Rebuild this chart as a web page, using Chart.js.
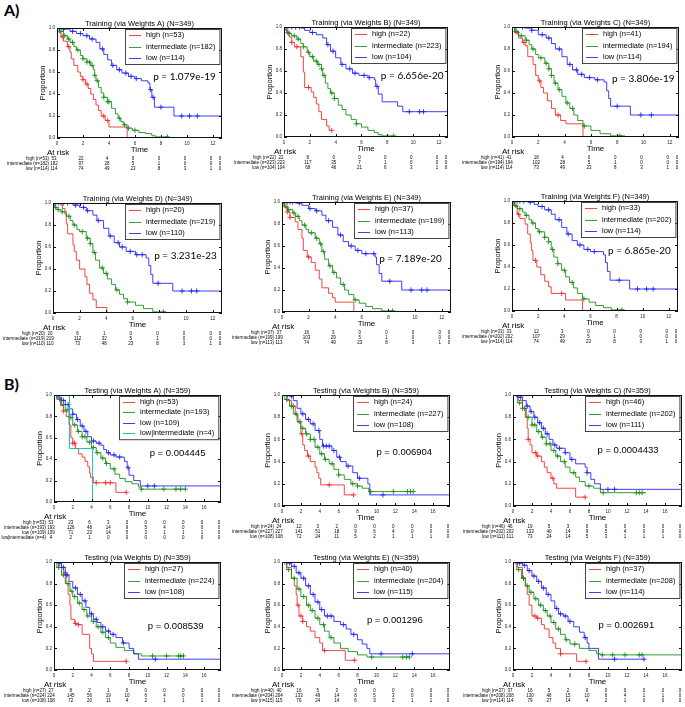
<!DOCTYPE html>
<html>
<head>
<meta charset="utf-8">
<script src="https://cdn.jsdelivr.net/npm/chart.js@4.4.1/dist/chart.umd.min.js"></script>
<style>
body{margin:0;background:#fff;width:685px;height:707px;position:relative;overflow:hidden;font-family:"Liberation Sans",Arial,sans-serif}
canvas{position:absolute}
.lbl{position:absolute;font-weight:bold;font-size:16px;font-family:Lato,"Liberation Sans",sans-serif;color:#000}
</style>
</head>
<body>
<div class="lbl" style="left:4px;top:0px">A)</div>
<div class="lbl" style="left:4px;top:374px">B)</div>
<script>
// ---- Training A ----
var trA_n = [53, 182, 114];
var trA_high = [[0,1],[0.15,0.96],[0.3,0.92],[0.5,0.88],[0.8,0.83],[1.0,0.78],[1.1,0.72],[1.3,0.66],[1.6,0.6],[1.8,0.56],[2.0,0.53],[2.2,0.49],[2.4,0.45],[2.6,0.4],[2.8,0.35],[3.0,0.3],[3.2,0.25],[3.4,0.2],[3.7,0.16],[4.0,0.1],[5.4,0]];
var trA_high_c = [0.4,0.9,2.0,2.3,3.6,3.9];
var trA_mid = [[0,1],[0.2,0.97],[0.5,0.93],[0.8,0.9],[1.0,0.87],[1.3,0.83],[1.5,0.8],[1.8,0.75],[2.0,0.72],[2.3,0.69],[2.6,0.66],[2.8,0.62],[2.9,0.57],[3.0,0.52],[3.2,0.46],[3.4,0.41],[3.6,0.37],[3.9,0.33],[4.2,0.27],[4.5,0.22],[4.7,0.18],[4.9,0.15],[5.1,0.12],[5.4,0.09],[5.8,0.07],[6.3,0.05],[6.8,0.04],[7.3,0.02],[7.6,0.01],[8.5,0.01]];
var trA_mid_c = [0.3,0.6,0.9,1.2,1.6,2.0,2.3,2.5,2.7,2.9,3.1,3.6,3.9,4.0,4.8,5.2,5.5,6.0,8.5];
var trA_low = [[0,1],[0.5,0.99],[1.0,0.97],[1.5,0.95],[2.0,0.93],[2.5,0.9],[3.0,0.87],[3.3,0.81],[3.6,0.76],[3.9,0.71],[4.2,0.66],[4.6,0.62],[5.0,0.59],[5.5,0.56],[6.0,0.54],[6.5,0.52],[7.0,0.5],[7.15,0.44],[7.3,0.37],[7.5,0.28],[9.0,0.2],[12.7,0.2]];
var trA_low_c = [0.2,0.5,1.2,1.8,2.3,2.7,3.5,4.3,4.8,5.3,5.7,6.1,7.2,7.4,8.0,9.6,10.2,10.8];
var trA_risk = [[53,22,4,0,0,0,0,0],[182,97,28,5,1,0,0,0],[114,74,49,23,8,3,1,0]];

// ---- Training B ----
var trB_n = [22, 223, 104];
var trB_high = [[0,1],[0.2,0.95],[0.4,0.91],[0.6,0.86],[0.8,0.82],[1.3,0.73],[1.5,0.59],[1.6,0.45],[2.1,0.41],[2.3,0.36],[2.5,0.3],[2.7,0.23],[2.9,0.16],[3.3,0.1],[3.5,0.06],[3.7,0.06]];
var trB_high_c = [0.3,0.6,1.0,1.9,3.7];
var trB_mid = [[0,1],[0.1,0.97],[0.3,0.94],[0.6,0.92],[1.0,0.89],[1.3,0.85],[1.5,0.82],[1.8,0.77],[2.0,0.73],[2.3,0.69],[2.6,0.66],[2.9,0.62],[3.0,0.56],[3.2,0.49],[3.4,0.44],[3.6,0.4],[3.9,0.35],[4.2,0.29],[4.5,0.25],[4.8,0.2],[5.2,0.16],[5.6,0.12],[6.0,0.09],[6.5,0.06],[7.0,0.04],[7.3,0.02],[7.6,0.01],[8.5,0.01]];
var trB_mid_c = [0.4,0.8,1.1,1.5,1.9,2.2,2.5,2.7,2.9,3.1,3.7,3.9,5.6,8.5];
var trB_low = [[0,1],[1.3,0.99],[1.6,0.97],[2.0,0.95],[2.5,0.93],[3.0,0.9],[3.3,0.84],[3.6,0.78],[4.0,0.72],[4.4,0.66],[4.8,0.62],[5.3,0.58],[5.8,0.56],[6.5,0.54],[7.0,0.52],[7.1,0.46],[7.3,0.39],[7.6,0.32],[8.8,0.28],[9.2,0.23],[12.7,0.23]];
var trB_low_c = [0.3,0.6,0.9,1.2,2.2,3.4,3.8,4.5,5.1,5.5,6.2,6.6,7.2,9.7,10.5,10.8];
var trB_risk = [[22,8,0,0,0,0,0,0],[223,117,35,7,1,0,0,0],[104,68,46,21,6,3,1,0]];

// ---- Training C ----
var trC_n = [41, 194, 114];
var trC_high = [[0,1],[0.2,0.95],[0.5,0.9],[0.8,0.86],[1.0,0.83],[1.2,0.73],[1.6,0.66],[1.8,0.56],[2.0,0.51],[2.2,0.45],[2.4,0.4],[2.7,0.33],[3.0,0.26],[3.3,0.2],[3.7,0.15],[4.1,0.12],[5.4,0]];
var trC_high_c = [0.4,0.9,2.1,3.5];
var trC_mid = [[0,1],[0.2,0.96],[0.5,0.92],[1.0,0.88],[1.3,0.84],[1.5,0.8],[1.8,0.75],[2.0,0.72],[2.5,0.67],[2.8,0.62],[3.0,0.56],[3.2,0.49],[3.5,0.43],[3.8,0.37],[4.1,0.31],[4.4,0.26],[4.7,0.2],[5.0,0.15],[5.4,0.1],[6.0,0.06],[6.7,0.03],[7.5,0.01],[8.6,0.01]];
var trC_mid_c = [0.3,0.7,1.1,1.6,2.2,2.6,2.8,3.0,3.3,3.6,4.2,4.6,5.5,8.2];
var trC_low = [[0,1],[1.0,0.99],[1.5,0.97],[2.0,0.93],[2.6,0.9],[3.0,0.85],[3.3,0.8],[3.8,0.73],[4.2,0.66],[4.6,0.61],[5.0,0.57],[5.5,0.54],[6.3,0.52],[7.0,0.5],[7.2,0.42],[7.35,0.35],[7.5,0.28],[9.0,0.2],[12.7,0.2]];
var trC_low_c = [0.3,0.8,1.5,2.3,2.8,3.6,4.4,4.9,5.3,5.9,6.5,8.0,9.8,10.6];
var trC_risk = [[41,18,4,0,0,0,0,0],[194,102,28,5,1,0,0,0],[114,73,49,23,8,3,1,0]];

// ---- Training D ----
var trD_n = [20, 219, 110];
var trD_high = [[0,1],[0.7,0.95],[0.9,0.9],[1.0,0.81],[1.1,0.72],[1.5,0.62],[1.6,0.56],[1.75,0.48],[2.0,0.4],[2.4,0.33],[2.55,0.26],[2.75,0.18],[3.0,0.12],[3.25,0.05],[4.05,0]];
var trD_high_c = [];
var trD_mid = [[0,1],[0.1,0.96],[0.3,0.94],[0.6,0.92],[1.0,0.88],[1.3,0.84],[1.5,0.8],[1.8,0.76],[2.0,0.74],[2.5,0.68],[2.8,0.63],[3.0,0.55],[3.2,0.48],[3.5,0.41],[3.8,0.36],[4.1,0.31],[4.4,0.26],[4.7,0.21],[5.0,0.17],[5.3,0.13],[5.6,0.1],[6.2,0.07],[6.8,0.04],[7.5,0.01],[8.5,0.01]];
var trD_mid_c = [0.2,0.4,0.7,1.2,1.6,2.2,2.6,2.8,3.1,3.7,4.0,4.8,5.6,8.3];
var trD_low = [[0,1],[1.5,0.98],[2.0,0.96],[2.5,0.93],[3.0,0.89],[3.3,0.84],[3.8,0.77],[4.2,0.7],[4.6,0.64],[5.0,0.6],[5.5,0.56],[6.2,0.53],[7.0,0.5],[7.2,0.43],[7.35,0.35],[7.5,0.27],[9.0,0.2],[12.7,0.2]];
var trD_low_c = [0.2,0.4,0.6,0.8,1.1,1.7,2.3,2.6,3.4,4.3,4.9,5.2,5.8,6.3,6.7,7.9,9.7,10.4,10.8];
var trD_risk = [[20,6,1,0,0,0,0,0],[219,112,32,5,1,0,0,0],[110,73,48,23,8,3,1,0]];

// ---- Training E ----
var trE_n = [37, 199, 113];
var trE_high = [[0,1],[0.2,0.95],[0.4,0.91],[0.6,0.86],[1.0,0.82],[1.2,0.75],[1.5,0.67],[1.6,0.56],[1.9,0.5],[2.2,0.45],[2.5,0.38],[2.8,0.3],[3.0,0.22],[3.5,0.17],[3.8,0.13],[4.0,0.09],[5.4,0]];
var trE_high_c = [0.4,0.6,2.0];
var trE_mid = [[0,1],[0.1,0.96],[0.4,0.93],[0.8,0.9],[1.0,0.87],[1.3,0.83],[1.5,0.79],[1.8,0.75],[2.0,0.72],[2.5,0.67],[2.8,0.62],[3.0,0.55],[3.2,0.48],[3.5,0.42],[3.8,0.36],[4.1,0.31],[4.4,0.25],[4.7,0.2],[5.0,0.16],[5.4,0.11],[5.8,0.08],[6.3,0.05],[6.8,0.03],[7.5,0.01],[8.5,0.01]];
var trE_mid_c = [0.3,0.5,0.9,1.2,1.7,2.2,2.6,2.9,3.1,3.6,3.9,4.6,5.5,8.3];
var trE_low = [[0,1],[1.0,0.99],[1.5,0.97],[2.0,0.94],[2.5,0.92],[3.0,0.88],[3.3,0.83],[3.8,0.77],[4.2,0.7],[4.6,0.64],[5.0,0.6],[5.5,0.56],[6.0,0.53],[7.0,0.5],[7.1,0.43],[7.3,0.35],[7.5,0.28],[9.0,0.2],[12.7,0.2]];
var trE_low_c = [0.2,0.4,0.6,0.8,1.3,2.1,2.6,3.5,4.4,5.2,5.7,6.3,6.9,8.1,9.7,10.5,10.9];
var trE_risk = [[37,16,3,0,0,0,0,0],[199,103,29,5,1,0,0,0],[113,74,49,23,8,3,1,0]];

// ---- Training F ----
var trF_n = [33, 202, 114];
var trF_high = [[0,1],[0.2,0.95],[0.4,0.88],[0.6,0.84],[1.0,0.79],[1.2,0.7],[1.4,0.62],[1.5,0.55],[1.6,0.46],[1.9,0.4],[2.2,0.33],[2.5,0.27],[2.8,0.22],[3.0,0.16],[4.1,0.1],[5.4,0]];
var trF_high_c = [0.5,1.8,3.8];
var trF_mid = [[0,1],[0.1,0.96],[0.4,0.93],[0.8,0.9],[1.0,0.87],[1.3,0.83],[1.5,0.8],[1.8,0.75],[2.0,0.72],[2.5,0.67],[2.8,0.63],[3.0,0.56],[3.2,0.49],[3.5,0.43],[3.8,0.37],[4.1,0.31],[4.4,0.26],[4.7,0.21],[5.0,0.16],[5.4,0.11],[5.9,0.08],[6.4,0.05],[7.0,0.03],[7.6,0.01],[8.6,0.01]];
var trF_mid_c = [0.3,0.6,1.1,1.6,2.1,2.5,2.8,3.1,3.5,4.0,4.6,5.5,8.4];
var trF_low = [[0,1],[1.2,0.99],[1.7,0.97],[2.0,0.95],[2.5,0.92],[3.0,0.88],[3.3,0.83],[3.8,0.76],[4.2,0.7],[4.6,0.64],[5.0,0.6],[5.5,0.56],[6.0,0.54],[7.0,0.51],[7.15,0.44],[7.3,0.36],[7.5,0.28],[9.0,0.2],[12.7,0.2]];
var trF_low_c = [0.2,0.4,0.6,0.9,1.4,2.3,2.8,3.6,4.3,5.2,5.8,6.3,8.2,9.6,10.3,10.8];
var trF_risk = [[33,12,3,0,0,0,0,0],[202,107,29,5,1,0,0,0],[114,74,49,23,8,3,1,0]];

// ---- Testing A ----
var teA_n = [53, 193, 109, 4];
var teA_high = [[0,1],[0.3,0.97],[0.7,0.9],[1.0,0.85],[1.3,0.8],[1.6,0.72],[1.8,0.6],[2.0,0.55],[2.3,0.5],[2.6,0.45],[3.0,0.42],[3.3,0.38],[3.6,0.33],[3.8,0.27],[3.9,0.23],[4.2,0.18],[6.6,0.09],[7.7,0.09]];
var teA_high_c = [1.0,2.0,2.2,4.5,5.5,6.0,7.7];
var teA_mid = [[0,1],[0.3,0.96],[0.8,0.91],[1.2,0.86],[1.6,0.79],[2.0,0.72],[2.5,0.66],[3.0,0.61],[3.5,0.56],[4.0,0.51],[4.5,0.46],[5.0,0.41],[5.5,0.36],[6.0,0.31],[6.5,0.26],[7.0,0.22],[7.6,0.19],[8.3,0.17],[9.0,0.14],[9.3,0.12],[14.0,0.12]];
var teA_mid_c = [0.6,1.0,1.4,1.8,2.2,2.6,3.0,3.3,3.8,4.2,4.6,5.2,5.6,6.4,9.3,11.7,13.0,13.5,14.0];
var teA_low = [[0,1],[0.5,0.98],[0.8,0.95],[1.2,0.91],[1.6,0.87],[2.0,0.82],[2.4,0.77],[2.8,0.71],[3.2,0.66],[3.6,0.61],[4.0,0.57],[4.5,0.55],[5.0,0.53],[5.3,0.49],[5.6,0.46],[6.0,0.44],[6.6,0.42],[7.5,0.38],[7.8,0.32],[8.0,0.25],[8.5,0.2],[9.2,0.15],[17.8,0.15]];
var teA_low_c = [0.4,1.0,1.5,2.0,2.5,3.0,3.4,4.2,4.8,5.8,6.4,7.0,7.9,10.0,10.7];
var teA_li = [[0,1],[1.65,0.5],[4.1,0]];
var teA_li_c = [];
var teA_risk = [[53,23,6,3,0,0,0,0,0,0],[193,126,48,14,9,5,4,0,0,0],[109,71,23,14,5,3,1,1,1,0],[4,2,1,0,0,0,0,0,0,0]];

// ---- Testing B ----
var teB_n = [24, 227, 108];
var teB_high = [[0,1],[0.5,0.95],[1.0,0.9],[1.4,0.82],[1.7,0.75],[2.0,0.65],[2.2,0.55],[2.4,0.5],[2.7,0.45],[3.0,0.4],[3.5,0.35],[3.7,0.3],[3.9,0.25],[4.1,0.19],[6.6,0.1],[7.6,0.1]];
var teB_high_c = [1.2,2.1,2.8,5.0,7.6];
var teB_mid = [[0,1],[0.3,0.96],[0.8,0.9],[1.2,0.83],[1.6,0.76],[2.0,0.7],[2.5,0.65],[3.0,0.6],[3.5,0.53],[4.0,0.47],[4.5,0.42],[5.0,0.38],[5.5,0.33],[6.0,0.28],[6.6,0.24],[7.3,0.2],[8.0,0.18],[8.5,0.16],[9.2,0.13],[14.0,0.13]];
var teB_mid_c = [0.5,1.0,1.5,1.9,2.2,2.6,3.0,3.4,3.8,4.2,4.6,5.3,6.0,7.5,8.0,9.4,11.8,13.3,13.6,13.9];
var teB_low = [[0,1],[0.8,0.99],[1.2,0.95],[1.6,0.88],[2.0,0.83],[2.5,0.78],[3.0,0.74],[3.5,0.68],[4.0,0.6],[4.3,0.54],[5.3,0.5],[5.8,0.44],[6.2,0.4],[6.8,0.36],[7.5,0.3],[8.0,0.25],[9.1,0.2],[9.3,0.1],[17.8,0.1]];
var teB_low_c = [0.6,1.0,2.2,2.8,3.3,3.9,4.4,4.7,5.0,5.5,6.1,7.0,8.2,10.7];
var teB_risk = [[24,12,3,2,0,0,0,0,0,0],[227,141,51,18,9,6,4,0,0,0],[108,72,24,11,5,2,1,1,1,0]];

// ---- Testing C ----
var teC_n = [46, 202, 111];
var teC_high = [[0,1],[0.6,0.95],[1.0,0.88],[1.3,0.8],[1.5,0.7],[1.6,0.6],[1.8,0.55],[2.0,0.48],[2.5,0.45],[3.0,0.4],[3.3,0.35],[3.6,0.3],[4.0,0.25],[4.3,0.2],[4.6,0.16],[6.6,0.08],[7.6,0.08]];
var teC_high_c = [1.0,1.6,2.4,2.6,4.2,7.6];
var teC_mid = [[0,1],[0.5,0.93],[1.0,0.88],[1.4,0.8],[2.0,0.73],[2.5,0.67],[3.0,0.62],[3.5,0.56],[4.0,0.5],[4.5,0.45],[5.0,0.4],[5.5,0.35],[6.0,0.3],[6.6,0.26],[7.0,0.22],[7.6,0.18],[8.5,0.16],[9.2,0.12],[14.0,0.12]];
var teC_mid_c = [0.7,1.2,1.6,2.0,2.3,2.7,3.1,3.5,3.9,4.3,4.7,5.4,6.4,8.0,9.5,13.0,13.3,13.6];
var teC_low = [[0,1],[0.5,0.98],[1.0,0.95],[1.4,0.9],[1.8,0.85],[2.2,0.8],[2.6,0.75],[3.0,0.7],[3.4,0.65],[3.8,0.6],[4.2,0.55],[4.6,0.52],[5.5,0.48],[6.0,0.42],[6.6,0.38],[7.6,0.35],[7.8,0.3],[8.2,0.24],[8.6,0.2],[9.2,0.15],[17.8,0.15]];
var teC_low_c = [0.4,0.8,1.5,1.9,2.3,2.8,3.2,3.6,4.4,4.9,5.5,6.2,7.8,10.0,10.7];
var teC_risk = [[46,19,5,3,0,0,0,0,0,0],[202,133,40,14,9,5,4,0,0,0],[111,73,24,14,5,3,1,1,1,0]];

// ---- Testing D ----
var teD_n = [27, 224, 108];
var teD_high = [[0,1],[0.5,0.95],[1.0,0.9],[1.3,0.8],[1.5,0.7],[1.7,0.6],[1.8,0.47],[2.2,0.43],[2.5,0.42],[3.0,0.33],[3.8,0.2],[4.0,0.15],[4.2,0.08],[7.7,0.08]];
var teD_high_c = [1.2,2.3,2.6,7.7];
var teD_mid = [[0,1],[0.3,0.95],[0.8,0.88],[1.2,0.8],[1.7,0.73],[2.0,0.68],[2.5,0.62],[3.0,0.56],[3.5,0.5],[4.0,0.45],[4.5,0.4],[5.0,0.35],[5.5,0.3],[6.0,0.25],[6.6,0.21],[7.5,0.18],[8.5,0.15],[9.3,0.13],[13.8,0.13]];
var teD_mid_c = [0.5,1.0,1.5,1.9,2.2,2.7,3.2,3.6,4.2,4.7,5.2,5.8,10.5,12.0,13.3,13.5,13.8];
var teD_low = [[0,1],[0.4,0.99],[0.8,0.95],[1.2,0.88],[1.6,0.82],[2.0,0.76],[2.5,0.7],[3.0,0.64],[3.4,0.58],[3.8,0.52],[4.2,0.47],[4.6,0.44],[5.0,0.4],[5.5,0.36],[6.0,0.33],[6.6,0.3],[7.3,0.25],[8.0,0.2],[8.5,0.15],[9.0,0.1],[17.8,0.1]];
var teD_low_c = [0.6,1.0,1.4,2.3,2.8,3.3,4.0,4.5,5.2,5.8,6.3,7.4,10.8];
var teD_risk = [[27,8,2,1,0,0,0,0,0,0],[224,145,56,19,10,6,4,0,0,0],[108,72,20,11,4,2,1,1,1,0]];

// ---- Testing E ----
var teE_n = [40, 204, 115];
var teE_high = [[0,1],[0.5,0.95],[1.0,0.85],[1.3,0.78],[1.5,0.7],[1.6,0.6],[1.8,0.5],[2.2,0.45],[2.6,0.4],[3.0,0.36],[3.5,0.3],[4.0,0.25],[4.3,0.18],[6.7,0.09],[7.7,0.09]];
var teE_high_c = [1.7,2.0,2.2,4.5,7.7];
var teE_mid = [[0,1],[0.5,0.93],[1.0,0.85],[1.6,0.75],[2.0,0.68],[2.6,0.6],[3.0,0.55],[3.5,0.48],[4.0,0.42],[4.5,0.36],[5.0,0.3],[5.5,0.25],[6.2,0.2],[7.0,0.17],[8.0,0.14],[9.0,0.12],[13.5,0.12]];
var teE_mid_c = [0.7,1.3,1.8,2.3,2.8,3.2,3.8,4.4,5.2,9.5,12.8,13.2,13.5];
var teE_low = [[0,1],[0.5,0.99],[1.0,0.96],[1.5,0.9],[2.0,0.85],[2.5,0.78],[3.0,0.7],[3.5,0.63],[4.0,0.56],[4.5,0.5],[5.5,0.45],[6.2,0.42],[6.8,0.38],[7.3,0.33],[8.0,0.28],[8.5,0.24],[9.0,0.2],[9.3,0.15],[17.8,0.15]];
var teE_low_c = [0.3,0.8,1.3,1.8,2.3,2.8,3.3,3.8,4.2,4.8,5.2,6.5,7.6,10.5,13.8];
var teE_risk = [[40,16,5,3,0,0,0,0,0,0],[204,133,49,14,8,5,3,0,0,0],[115,76,24,14,6,3,2,1,1,0]];

// ---- Testing F ----
var teF_n = [37, 208, 114];
var teF_high = [[0,1],[0.5,0.95],[1.0,0.85],[1.3,0.78],[1.5,0.7],[1.7,0.6],[2.0,0.5],[2.5,0.48],[3.0,0.42],[3.3,0.38],[3.8,0.3],[4.2,0.25],[4.5,0.2],[5.0,0.15],[6.7,0.08],[7.7,0.08]];
var teF_high_c = [1.1,2.3,2.6,5.0,7.7];
var teF_mid = [[0,1],[0.4,0.93],[0.9,0.85],[1.3,0.78],[1.7,0.72],[2.2,0.66],[2.7,0.6],[3.2,0.55],[3.6,0.5],[4.0,0.44],[4.5,0.38],[5.0,0.33],[5.5,0.28],[6.0,0.24],[7.0,0.2],[8.0,0.18],[8.8,0.15],[9.2,0.14],[17.8,0.14]];
var teF_mid_c = [0.6,1.1,1.5,1.9,2.4,2.9,3.4,3.9,4.3,4.8,5.6,6.5,9.4,10.5,11.8,13.3,13.6];
var teF_low = [[0,1],[0.5,0.99],[1.0,0.97],[1.5,0.92],[2.0,0.87],[2.5,0.82],[3.0,0.76],[3.5,0.7],[4.0,0.64],[4.4,0.57],[4.8,0.52],[5.3,0.5],[5.8,0.45],[6.4,0.4],[7.0,0.35],[7.5,0.3],[7.8,0.25],[8.0,0.2],[9.0,0.1],[13.8,0.1]];
var teF_low_c = [0.3,0.7,1.2,1.7,2.2,2.7,3.2,3.7,4.6,5.0,5.5,6.0,7.6,10.7,13.8];
var teF_risk = [[37,16,5,2,0,0,0,0,0,0],[208,130,46,15,10,6,4,1,1,0],[114,79,27,14,4,2,1,0,0,0]];

var groupNames = ['high', 'intermediate', 'low', 'low|intermediate'];
var groupColors = ['rgba(240,40,40,0.85)', 'rgba(20,140,20,0.85)', 'rgba(30,30,245,0.85)', 'rgba(0,190,190,0.9)'];

var trFont = '10px Lato', teFont = '9.5px "Liberation Sans"';
var panels = [
  {title:'Training (via Weights A) (N=349)', box:[57,28,223,138], xmax:12.7, p:'p = 1.079e-19', pAt:[7.4,0.555], pFont:trFont, n:trA_n, curves:[trA_high,trA_mid,trA_low], cens:[trA_high_c,trA_mid_c,trA_low_c], risk:trA_risk},
  {title:'Training (via Weights B) (N=349)', box:[284,27,449,137], xmax:12.7, p:'p = 6.656e-20', pAt:[7.5,0.56], pFont:trFont, n:trB_n, curves:[trB_high,trB_mid,trB_low], cens:[trB_high_c,trB_mid_c,trB_low_c], risk:trB_risk},
  {title:'Training (via Weights C) (N=349)', box:[512,27,680,137], xmax:12.7, p:'p = 3.806e-19', pAt:[7.6,0.53], pFont:trFont, n:trC_n, curves:[trC_high,trC_mid,trC_low], cens:[trC_high_c,trC_mid_c,trC_low_c], risk:trC_risk},
  {title:'Training (via Weights D) (N=349)', box:[53,203,223,313], xmax:12.7, p:'p = 3.231e-23', pAt:[7.6,0.52], pFont:trFont, n:trD_n, curves:[trD_high,trD_mid,trD_low], cens:[trD_high_c,trD_mid_c,trD_low_c], risk:trD_risk},
  {title:'Training (via Weights E) (N=349)', box:[282,202,452,312], xmax:12.7, p:'p = 7.189e-20', pAt:[7.3,0.48], pFont:trFont, n:trE_n, curves:[trE_high,trE_mid,trE_low], cens:[trE_high_c,trE_mid_c,trE_low_c], risk:trE_risk},
  {title:'Training (via Weights F) (N=349)', box:[512,201,679,311], xmax:12.7, p:'p = 6.865e-20', pAt:[7.35,0.55], pFont:trFont, n:trF_n, curves:[trF_high,trF_mid,trF_low], cens:[trF_high_c,trF_mid_c,trF_low_c], risk:trF_risk},
  {title:'Testing (via Weights A) (N=359)', box:[54,395,222,502], xmax:17.8, p:'p = 0.004445', pAt:[10.2,0.45], pFont:teFont, n:teA_n, curves:[teA_high,teA_mid,teA_low,teA_li], cens:[teA_high_c,teA_mid_c,teA_low_c,teA_li_c], risk:teA_risk},
  {title:'Testing (via Weights B) (N=359)', box:[282,395,451,506], xmax:17.8, p:'p = 0.006904', pAt:[10.0,0.48], pFont:teFont, n:teB_n, curves:[teB_high,teB_mid,teB_low], cens:[teB_high_c,teB_mid_c,teB_low_c], risk:teB_risk},
  {title:'Testing (via Weights C) (N=359)', box:[513,395,683,506], xmax:17.8, p:'p = 0.0004433', pAt:[8.9,0.5], pFont:teFont, n:teC_n, curves:[teC_high,teC_mid,teC_low], cens:[teC_high_c,teC_mid_c,teC_low_c], risk:teC_risk},
  {title:'Testing (via Weights D) (N=359)', box:[54,562,222,670], xmax:17.8, p:'p = 0.008539', pAt:[10.0,0.4], pFont:teFont, n:teD_n, curves:[teD_high,teD_mid,teD_low], cens:[teD_high_c,teD_mid_c,teD_low_c], risk:teD_risk},
  {title:'Testing (via Weights E) (N=359)', box:[282,562,451,670], xmax:17.8, p:'p = 0.001296', pAt:[9.0,0.46], pFont:teFont, n:teE_n, curves:[teE_high,teE_mid,teE_low], cens:[teE_high_c,teE_mid_c,teE_low_c], risk:teE_risk},
  {title:'Testing (via Weights F) (N=359)', box:[513,562,683,670], xmax:17.8, p:'p = 0.002691', pAt:[9.0,0.41], pFont:teFont, n:teF_n, curves:[teF_high,teF_mid,teF_low], cens:[teF_high_c,teF_mid_c,teF_low_c], risk:teF_risk}
];

// value of a step curve at time t (for censor marks)
function stepAt(curve, t) {
  var y = curve[0][1];
  for (var i = 0; i < curve.length; i++) {
    if (curve[i][0] <= t) y = curve[i][1];
  }
  return y;
}

function makeKmPlugin(pn) {
  return {
    id: 'km',
    afterDraw: function (chart) {
      var ctx = chart.ctx, a = chart.chartArea;
      var xs = chart.scales.x, ys = chart.scales.y;
      var rows = pn.curves.length;
      ctx.save();
      // frame + inward ticks
      ctx.strokeStyle = '#111';
      ctx.lineWidth = 1;
      ctx.strokeRect(Math.round(a.left) + 0.5, Math.round(a.top) + 0.5, Math.round(a.right - a.left) - 1, Math.round(a.bottom - a.top) - 1);
      ctx.beginPath();
      for (var t = 0; t <= pn.xmax; t += 2) {
        var px = Math.round(xs.getPixelForValue(t)) + 0.5;
        ctx.moveTo(px, a.bottom); ctx.lineTo(px, a.bottom - 3);
        ctx.moveTo(px, a.top); ctx.lineTo(px, a.top + 3);
      }
      for (var v = 0; v <= 5; v++) {
        var py = Math.round(ys.getPixelForValue(v * 0.2)) + 0.5;
        ctx.moveTo(a.left, py); ctx.lineTo(a.left + 3, py);
        ctx.moveTo(a.right, py); ctx.lineTo(a.right - 3, py);
      }
      ctx.stroke();

      ctx.fillStyle = '#000';
      // title
      ctx.font = '7.5px "Liberation Sans"';
      ctx.textAlign = 'center';
      ctx.textBaseline = 'alphabetic';
      ctx.fillText(pn.title, (a.left + a.right) / 2, a.top - 2.5);
      // axis titles
      ctx.font = '8px "Liberation Sans"';
      ctx.textBaseline = 'middle';
      ctx.fillText('Time', (a.left + a.right) / 2, a.bottom + 12);
      ctx.save();
      ctx.translate(a.left - 14, (a.top + a.bottom) / 2);
      ctx.rotate(-Math.PI / 2);
      ctx.font = '7.5px "Liberation Sans"';
      ctx.fillText('Proportion', 0, 0);
      ctx.restore();

      // p value
      ctx.font = pn.pFont;
      ctx.textAlign = 'left';
      ctx.fillText(pn.p, xs.getPixelForValue(pn.pAt[0]), ys.getPixelForValue(pn.pAt[1]));

      // legend
      var rowH = rows > 3 ? 10.4 : 11.5;
      ctx.font = '7.5px "Liberation Sans"';
      var labels = pn.n.map(function (n, i) { return groupNames[i] + ' (n=' + n + ')'; });
      var tw = 0;
      labels.forEach(function (s) { tw = Math.max(tw, ctx.measureText(s).width); });
      var bw = tw + 25, bh = 12 + rowH * (rows - 1);
      var bx = Math.round(a.right - 3 - bw), by = Math.round(a.top + 1);
      ctx.fillStyle = '#fff';
      ctx.fillRect(bx, by, bw, bh);
      ctx.strokeStyle = '#444';
      ctx.strokeRect(bx + 0.5, by + 0.5, bw, bh);
      labels.forEach(function (s, i) {
        var ly = by + 6 + i * rowH;
        ctx.strokeStyle = groupColors[i];
        ctx.beginPath();
        ctx.moveTo(bx + 4, Math.round(ly) + 0.5);
        ctx.lineTo(bx + 16, Math.round(ly) + 0.5);
        ctx.stroke();
        ctx.fillStyle = '#000';
        ctx.fillText(s, bx + 21, ly);
      });

      // at-risk table
      ctx.font = '8px "Liberation Sans"';
      ctx.fillText('At risk', a.left - 10, a.bottom + 15);
      ctx.font = '4.5px "Liberation Sans"';
      pn.risk.forEach(function (vals, r) {
        var ry = a.bottom + 21 + r * 4.8;
        ctx.textAlign = 'right';
        ctx.fillText(labels[r], a.left - 8, ry);
        ctx.textAlign = 'center';
        vals.forEach(function (val, c) {
          var tt = c < vals.length - 1 ? c * 2 : xs.max;
          var cx = xs.getPixelForValue(tt) - (c === 0 ? 3 : 2);
          ctx.fillText(String(val), cx, ry);
        });
      });
      ctx.restore();
    }
  };
}

function buildPanel(pn) {
  var L = 60, R = 4, T = 14;
  var B = Math.round(24 + pn.curves.length * 4.8);
  var w = Math.round(pn.box[2] - pn.box[0]) + L + R;
  var h = Math.round(pn.box[3] - pn.box[1]) + T + B;
  var cv = document.createElement('canvas');
  cv.width = w; cv.height = h;
  cv.style.width = w + 'px'; cv.style.height = h + 'px';
  cv.style.left = (pn.box[0] - L) + 'px';
  cv.style.top = (pn.box[1] - T) + 'px';
  document.body.appendChild(cv);

  var datasets = [];
  var ng = pn.curves.length;
  pn.curves.forEach(function (cur, i) {
    datasets.push({
      data: cur.map(function (p) { return {x: p[0], y: p[1]}; }),
      stepped: true, borderColor: groupColors[i], borderWidth: 1,
      pointRadius: 0, fill: false, order: ng - i
    });
    datasets.push({
      data: pn.cens[i].map(function (t) { return {x: t, y: stepAt(cur, t)}; }),
      showLine: false, pointStyle: 'cross', pointRadius: 2.6, borderWidth: 1,
      borderColor: groupColors[i], backgroundColor: groupColors[i], order: ng - i
    });
  });

  new Chart(cv, {
    type: 'line',
    data: {datasets: datasets},
    options: {
      responsive: false,
      animation: false,
      events: [],
      layout: {padding: {top: T, right: R, left: 0, bottom: 0}},
      plugins: {legend: {display: false}, tooltip: {enabled: false}, title: {display: false}},
      scales: {
        x: {
          type: 'linear', min: 0, max: pn.xmax,
          grid: {display: false, drawTicks: false, tickLength: 0}, border: {display: false},
          ticks: {stepSize: 2, includeBounds: false, maxRotation: 0, autoSkip: false, padding: 3, color: '#222',
                  font: {size: 4.5, family: 'Liberation Sans'},
                  callback: function (v) { return v % 2 === 0 ? String(v) : ''; }},
          afterFit: function (s) { s.height = B; }
        },
        y: {
          min: 0, max: 1,
          grid: {display: false, drawTicks: false, tickLength: 0}, border: {display: false},
          ticks: {stepSize: 0.2, padding: 2, color: '#222', font: {size: 4.5, family: 'Liberation Sans'},
                  callback: function (v) { return v.toFixed(1); }},
          afterFit: function (s) { s.width = L; }
        }
      }
    },
    plugins: [makeKmPlugin(pn)]
  });
}

panels.forEach(buildPanel);
</script>
</body>
</html>
